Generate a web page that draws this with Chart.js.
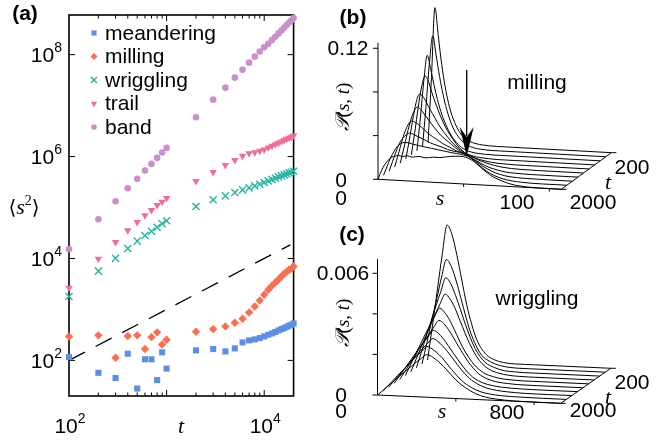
<!DOCTYPE html>
<html>
<head>
<meta charset="utf-8">
<title>Spreading of collective states</title>
<script src="https://cdn.jsdelivr.net/npm/chart.js@4.4.1/dist/chart.umd.min.js"></script>
<style>
  body { margin: 0; background: #fff; }
  #fig { position: relative; width: 659px; height: 441px; overflow: hidden; background: #fff; }
  #fig canvas { position: absolute; }
</style>
</head>
<body>
<div id="fig">
  <canvas id="msd" width="300" height="441" style="left:0;top:0"></canvas>
  <canvas id="mill" width="359" height="215" style="left:300px;top:0"></canvas>
  <canvas id="wrig" width="359" height="226" style="left:300px;top:215px"></canvas>
</div>
<script>
// (a) mean squared displacement <s^2> against t, one list per state
const times = [100, 200, 300, 400, 500, 600, 700, 800, 900, 1000,
  2000, 3000, 4000, 5000, 6000, 7000, 8000, 9000, 10000,
  11000, 12000, 13000, 14000, 15000, 16000, 17000, 18000, 19000, 20000];
const meandering = [116, 57, 45, 135, 28, 105, 105, 41, 144, 69,
  157, 167, 150, 172, 225, 247, 258, 274, 295,
  318, 338, 360, 387, 411, 430, 457, 479, 501, 531];
const milling = [295, 310, 113, 300, 310, 167, 286, 355, 206, 254,
  365, 411, 464, 548, 656, 873, 1145, 1500, 1940,
  2430, 2910, 3380, 3870, 4440, 5000, 5480, 6000, 6370, 6970];
const wriggling = [1800, 5640, 10100, 15700, 21900, 28300, 34300, 41100, 47900, 54800,
  105000, 142000, 169000, 197000, 222000, 243000, 266000, 287000, 309000,
  333000, 354000, 376000, 399000, 418000, 437000, 457000, 479000, 493000, 515000];
const trail = [2660, 9860, 20900, 35400, 51500, 69700, 88700, 111000, 129000, 152000,
  328000, 492000, 676000, 847000, 1030000, 1160000, 1210000, 1290000, 1370000,
  1500000, 1620000, 1740000, 1850000, 1970000, 2090000, 2220000, 2320000, 2430000, 2580000];
const band = [15200, 59000, 133000, 239000, 365000, 531000, 718000, 942000, 1200000, 1480000,
  5900000, 13100000, 22500000, 35400000, 50800000, 69700000, 91400000, 115000000, 139000000,
  163000000, 193000000, 225000000, 261000000, 298000000, 339000000, 382000000, 427000000, 474000000, 525000000];
// dashed guide, <s^2> proportional to t
const guideT = [100, 18500];
const guideS2 = [100, 18500];
const xPowers = [2, 4];
const yPowers = [2, 4, 6, 8];

// (b), (c) distributions P(s,t), one row per t (200 at the back, 2000 in front)
const tCurves = [200, 400, 600, 800, 1000, 1200, 1400, 1600, 1800, 2000];
const sMill = [0, 2, 4, 6, 8, 10, 12, 14, 17, 20, 24, 28, 32, 36, 40, 45, 50, 55, 60, 65, 70, 80, 107];
const pMill = [
  [0, 0.060, 0.124, 0.098, 0.072, 0.052, 0.037, 0.026, 0.015, 0.008, 0.0035, 0.0015, 0.0006, 0.0002, 0, 0, 0, 0, 0, 0, 0, 0, 0],
  [0, 0.036, 0.076, 0.102, 0.084, 0.065, 0.049, 0.036, 0.022, 0.013, 0.006, 0.0025, 0.001, 0.0004, 0, 0, 0, 0, 0, 0, 0, 0, 0],
  [0, 0.030, 0.064, 0.088, 0.076, 0.061, 0.048, 0.037, 0.025, 0.016, 0.008, 0.0035, 0.0015, 0.0006, 0.0002, 0, 0, 0, 0, 0, 0, 0, 0],
  [0, 0.021, 0.044, 0.063, 0.073, 0.068, 0.058, 0.049, 0.037, 0.027, 0.017, 0.009, 0.004, 0.002, 0.001, 0.0004, 0, 0, 0, 0, 0, 0, 0],
  [0, 0.017, 0.036, 0.052, 0.060, 0.058, 0.053, 0.047, 0.039, 0.031, 0.023, 0.016, 0.011, 0.007, 0.0045, 0.0025, 0.0012, 0.0005, 0.0002, 0, 0, 0, 0],
  [0, 0.013, 0.027, 0.039, 0.048, 0.052, 0.050, 0.046, 0.040, 0.034, 0.027, 0.022, 0.017, 0.013, 0.011, 0.007, 0.0045, 0.0025, 0.0012, 0.0005, 0.0002, 0, 0],
  [0, 0.011, 0.023, 0.033, 0.040, 0.043, 0.042, 0.040, 0.036, 0.032, 0.028, 0.024, 0.021, 0.018, 0.016, 0.012, 0.008, 0.0045, 0.0025, 0.001, 0.0004, 0, 0],
  [0, 0.009, 0.018, 0.026, 0.031, 0.034, 0.036, 0.035, 0.033, 0.031, 0.028, 0.026, 0.024, 0.022, 0.021, 0.019, 0.014, 0.009, 0.005, 0.0025, 0.001, 0.0002, 0],
  [0, 0.008, 0.016, 0.022, 0.027, 0.030, 0.031, 0.031, 0.030, 0.029, 0.028, 0.027, 0.026, 0.025, 0.024, 0.023, 0.021, 0.015, 0.009, 0.005, 0.0025, 0.0005, 0],
  [0, 0.008, 0.014, 0.018, 0.021, 0.022, 0.023, 0.022, 0.023, 0.022, 0.023, 0.022, 0.023, 0.023, 0.024, 0.025, 0.025, 0.022, 0.016, 0.010, 0.006, 0.0015, 0]
];
const sWrig = [0, 25, 50, 75, 100, 125, 150, 175, 200, 225, 250, 300, 350, 400, 450, 500, 550, 600, 700, 936];
const pWrig = [
  [0, 0.00168, 0.00348, 0.00523, 0.0067, 0.00623, 0.00523, 0.00402, 0.00281, 0.00188, 0.00114, 0.0004, 0.00013, 0.00003, 0, 0, 0, 0, 0, 0],
  [0, 0.00104, 0.00218, 0.00322, 0.00432, 0.0052, 0.00486, 0.00416, 0.00328, 0.00239, 0.00161, 0.00062, 0.00026, 0.00009, 0.00002, 0, 0, 0, 0, 0],
  [0, 0.00077, 0.00158, 0.00234, 0.0031, 0.00383, 0.0045, 0.00423, 0.00365, 0.00297, 0.00225, 0.00108, 0.00043, 0.00018, 0.00005, 0.00002, 0, 0, 0, 0],
  [0, 0.00059, 0.00117, 0.00176, 0.00234, 0.00289, 0.00343, 0.0039, 0.00367, 0.00324, 0.00265, 0.00152, 0.0007, 0.00029, 0.00012, 0.00004, 0.00001, 0, 0, 0],
  [0, 0.00051, 0.00102, 0.00153, 0.00204, 0.00252, 0.00299, 0.0034, 0.00321, 0.00286, 0.00238, 0.0014, 0.00071, 0.00031, 0.00014, 0.00005, 0.00002, 0, 0, 0],
  [0, 0.00039, 0.00078, 0.00117, 0.00156, 0.00195, 0.00231, 0.00267, 0.003, 0.00285, 0.00255, 0.00177, 0.00102, 0.00048, 0.00021, 0.00009, 0.00004, 0.00001, 0, 0],
  [0, 0.00035, 0.0007, 0.00105, 0.0014, 0.00176, 0.00208, 0.0024, 0.0027, 0.00257, 0.00232, 0.00165, 0.001, 0.00049, 0.00023, 0.00011, 0.00005, 0.00002, 0, 0],
  [0, 0.0003, 0.00058, 0.00088, 0.00115, 0.00145, 0.00173, 0.002, 0.00225, 0.0025, 0.00238, 0.0019, 0.00128, 0.00073, 0.00038, 0.00018, 0.00009, 0.00004, 0, 0],
  [0, 0.00028, 0.00053, 0.00081, 0.00106, 0.00133, 0.00159, 0.00184, 0.00207, 0.0023, 0.00219, 0.00179, 0.00122, 0.00071, 0.00038, 0.00018, 0.00009, 0.00004, 0.00001, 0],
  [0, 0.00021, 0.00044, 0.00065, 0.00088, 0.00109, 0.0013, 0.00151, 0.00172, 0.00191, 0.0021, 0.00187, 0.00143, 0.00092, 0.00055, 0.00029, 0.00014, 0.00007, 0.00001, 0]
];

const SANS = '"Liberation Sans", Arial, Helvetica, sans-serif';
const SERIF = '"Liberation Serif", "DejaVu Serif", serif';

// draw a run of text pieces with different fonts, y is the baseline
function rich(ctx, parts, x, y, align, angle) {
  ctx.save();
  ctx.translate(x, y);
  if (angle) ctx.rotate(angle);
  let w = 0;
  parts.forEach(p => { ctx.font = p.f; p.w = ctx.measureText(p.t).width; w += p.w; });
  let cx = align === 'center' ? -w / 2 : align === 'right' ? -w : 0;
  ctx.textAlign = 'left';
  ctx.textBaseline = 'alphabetic';
  ctx.fillStyle = '#000';
  parts.forEach(p => { ctx.font = p.f; ctx.fillText(p.t, cx, p.dy || 0); cx += p.w; });
  ctx.restore();
}

function pow10(ctx, e, x, y, align) {
  rich(ctx, [{ t: '10', f: '21px ' + SANS }, { t: String(e), f: '14px ' + SANS, dy: -10 }], x, y, align);
}

function seg(ctx, a, b) {
  ctx.beginPath();
  ctx.moveTo(a[0], a[1]);
  ctx.lineTo(b[0], b[1]);
  ctx.stroke();
}

const states = [
  { label: 'meandering', data: meandering, color: '#5b8ee6', shape: 'rect', r: 4.3, rot: 0 },
  { label: 'milling', data: milling, color: '#fd6d4f', shape: 'rectRot', r: 4.2, rot: 0 },
  { label: 'wriggling', data: wriggling, color: '#26b3a2', shape: 'crossRot', r: 5, rot: 0 },
  { label: 'trail', data: trail, color: '#ee6f96', shape: 'triangle', r: 4.3, rot: 180 },
  { label: 'band', data: band, color: '#cc8fcc', shape: 'circle', r: 3.3, rot: 0 }
];

const msdSets = states.map(st => ({
  label: st.label,
  data: times.map((t, i) => ({ x: t, y: st.data[i] })),
  showLine: false,
  pointStyle: st.shape,
  pointRadius: st.r,
  pointRotation: st.rot,
  backgroundColor: st.color,
  borderColor: st.color,
  pointBorderWidth: st.shape === 'crossRot' ? 1.4 : 0,
  clip: false
}));
msdSets.push({
  label: 'guide',
  data: guideT.map((t, i) => ({ x: t, y: guideS2[i] })),
  showLine: true,
  borderColor: '#000',
  borderWidth: 1.3,
  borderDash: [18, 12],
  pointRadius: 0,
  clip: false
});

const msdDecor = {
  id: 'msdDecor',
  beforeDatasetsDraw(chart) {
    const { ctx, chartArea: a, scales: { x, y } } = chart;
    ctx.save();
    ctx.strokeStyle = '#000';
    ctx.lineWidth = 1.6;
    ctx.strokeRect(a.left, a.top, a.right - a.left, a.bottom - a.top);
    ctx.lineWidth = 1;
    for (let d = 100; d < x.max; d *= 10) {
      for (let m = 1; m < 10; m++) {
        const v = d * m;
        if (v <= x.min || v >= x.max) continue;
        const px = x.getPixelForValue(v);
        const len = m === 1 ? 6 : 3.5;
        seg(ctx, [px, a.bottom], [px, a.bottom - len]);
        seg(ctx, [px, a.top], [px, a.top + len]);
      }
    }
    yPowers.forEach(e => {
      const py = y.getPixelForValue(Math.pow(10, e));
      seg(ctx, [a.left, py], [a.left + 6, py]);
      seg(ctx, [a.right, py], [a.right - 6, py]);
    });
    ctx.restore();
  },
  afterDraw(chart) {
    const { ctx, scales: { x, y } } = chart;
    ctx.save();
    ctx.fillStyle = '#000';
    xPowers.forEach(e => pow10(ctx, e, x.getPixelForValue(Math.pow(10, e)) + 1, 433, 'center'));
    yPowers.forEach(e => pow10(ctx, e, 62, y.getPixelForValue(Math.pow(10, e)) + 7.5, 'right'));
    rich(ctx, [{ t: 't', f: 'italic 22px ' + SERIF }], 181, 433, 'center');
    rich(ctx, [
      { t: '\u27E8', f: '20px "DejaVu Sans", ' + SERIF },
      { t: 's', f: 'italic 22px ' + SERIF },
      { t: '2', f: '14px ' + SERIF, dy: -9 },
      { t: '\u27E9', f: '20px "DejaVu Sans", ' + SERIF }
    ], 24, 214, 'center');
    rich(ctx, [{ t: '(a)', f: 'bold 21px ' + SANS }], 25, 20, 'center');
    // legend in the top left corner of the axes
    states.forEach((st, i) => {
      const ly = 33 + i * 23.5;
      ctx.fillStyle = st.color;
      ctx.strokeStyle = st.color;
      Chart.helpers.drawPoint(ctx, {
        pointStyle: st.shape, radius: st.r * 0.85, rotation: st.rot,
        borderWidth: st.shape === 'crossRot' ? 1.3 : 0
      }, 94, ly);
      ctx.fillStyle = '#000';
      ctx.font = '21px ' + SANS;
      ctx.textAlign = 'left';
      ctx.textBaseline = 'middle';
      ctx.fillText(st.label, 105, ly + 1);
    });
    ctx.restore();
  }
};

new Chart(document.getElementById('msd'), {
  type: 'scatter',
  data: { datasets: msdSets },
  options: {
    responsive: false,
    animation: false,
    devicePixelRatio: 1,
    events: [],
    layout: { padding: { top: 15, right: 2, left: 0, bottom: 0 } },
    plugins: { legend: { display: false }, tooltip: { enabled: false } },
    scales: {
      x: {
        type: 'logarithmic', min: 100, max: 20000,
        grid: { display: false }, border: { display: false }, ticks: { display: false },
        afterFit: s => { s.height = 45; }
      },
      y: {
        type: 'logarithmic', min: 20, max: 6e8,
        grid: { display: false }, border: { display: false }, ticks: { display: false },
        afterFit: s => { s.width = 69; }
      }
    }
  },
  plugins: [msdDecor]
});

// waterfall projection: s runs to the right, depth (older t) goes up-right, P goes up
function project(g, s, depth, p) {
  return { x: g.ox + s * g.sx + depth * g.dx, y: g.oy + s * g.sy - depth * g.dy - p * g.pz };
}

function waterfall(id, g, sGrid, rows, extra) {
  const last = tCurves.length - 1;
  const datasets = rows.map((row, j) => ({
    label: 't = ' + tCurves[j],
    data: sGrid.map((s, i) => project(g, s, last - j, row[i])),
    showLine: true,
    borderColor: '#000',
    borderWidth: 1,
    pointRadius: 0,
    cubicInterpolationMode: 'monotone'
  }));
  const decor = {
    id: 'waterDecor',
    afterDatasetsDraw(chart) {
      const { ctx, scales: { x, y } } = chart;
      const pt = (s, d, p) => { const q = project(g, s, d, p); return [x.getPixelForValue(q.x), y.getPixelForValue(q.y)]; };
      const at = (X, Y) => [x.getPixelForValue(X), y.getPixelForValue(Y)];
      ctx.save();
      ctx.strokeStyle = '#000';
      ctx.fillStyle = '#000';
      ctx.lineWidth = 1;
      seg(ctx, pt(0, 0, 0), pt(0, 0, g.zTop));
      seg(ctx, pt(0, 0, 0), pt(g.sMax, 0, 0));
      seg(ctx, pt(g.sMax, 0, 0), pt(g.sMax, last, 0));
      g.zTicks.forEach(v => { const q = pt(0, 0, v); seg(ctx, [q[0] - 5, q[1]], q); });
      g.sTicks.forEach(v => { const q = pt(v, 0, 0); seg(ctx, q, [q[0], q[1] + 3]); });
      [0, last].forEach(d => { const q = pt(g.sMax, d, 0); seg(ctx, q, [q[0] + 5, q[1]]); });
      g.labels.forEach(l => {
        const q = at(l.x, l.y);
        rich(ctx, [{ t: l.t, f: l.f }], q[0], q[1], 'center');
      });
      const pq = at(g.pLabel[0], g.pLabel[1]);
      rich(ctx, [
        { t: '\uD835\uDCAB', f: 'italic 20px ' + SERIF },
        { t: '(', f: '19px ' + SERIF },
        { t: 's', f: 'italic 19px ' + SERIF },
        { t: ', ', f: '19px ' + SERIF },
        { t: 't', f: 'italic 19px ' + SERIF },
        { t: ')', f: '19px ' + SERIF }
      ], pq[0], pq[1], 'center', -Math.PI / 2);
      if (extra) extra(ctx, at);
      ctx.restore();
    }
  };
  new Chart(document.getElementById(id), {
    type: 'scatter',
    data: { datasets },
    options: {
      responsive: false,
      animation: false,
      devicePixelRatio: 1,
      events: [],
      layout: { padding: 0 },
      plugins: { legend: { display: false }, tooltip: { enabled: false } },
      scales: {
        x: { type: 'linear', display: false, min: g.left, max: g.left + g.w },
        y: { type: 'linear', display: false, reverse: true, min: g.top, max: g.top + g.h }
      }
    },
    plugins: [decor]
  });
}

const NUM = '21px ' + SANS;
const ITAL = 'italic 22px ' + SERIF;

waterfall('mill', {
  left: 300, top: 0, w: 359, h: 215,
  ox: 378, oy: 179.3, sx: 1.713, sy: 0.0935, dx: 5.56, dy: 4.07, pz: 1092,
  zTop: 0.125, sMax: 107, zTicks: [0, 0.04, 0.08, 0.12], sTicks: [50, 100],
  pLabel: [349, 107],
  labels: [
    { t: '0.12', x: 348, y: 55, f: NUM },
    { t: '0', x: 341, y: 187, f: NUM },
    { t: '0', x: 341, y: 205, f: NUM },
    { t: 's', x: 440, y: 205, f: ITAL },
    { t: '100', x: 517, y: 209, f: NUM },
    { t: '2000', x: 593, y: 209, f: NUM },
    { t: 't', x: 608, y: 189, f: ITAL },
    { t: '200', x: 632, y: 174, f: NUM },
    { t: 'milling', x: 537, y: 89, f: NUM },
    { t: '(b)', x: 353, y: 24, f: 'bold 21px ' + SANS }
  ]
}, sMill, pMill, (ctx, at) => {
  // arrow pointing at the crossing of the curves
  const top = at(466.7, 70), tip = at(466.7, 156);
  ctx.lineWidth = 1.3;
  seg(ctx, top, [tip[0], tip[1] - 20]);
  ctx.beginPath();
  ctx.moveTo(tip[0], tip[1]);
  ctx.lineTo(tip[0] - 7, tip[1] - 29);
  ctx.lineTo(tip[0], tip[1] - 19);
  ctx.lineTo(tip[0] + 7, tip[1] - 29);
  ctx.closePath();
  ctx.fill();
});

waterfall('wrig', {
  left: 300, top: 215, w: 359, h: 226,
  ox: 377.5, oy: 395, sx: 0.1958, sy: 0.00887, dx: 5.56, dy: 3.89, pz: 20283,
  zTop: 0.0067, sMax: 936, zTicks: [0, 0.002, 0.004, 0.006], sTicks: [400, 800],
  pLabel: [349, 323],
  labels: [
    { t: '0.006', x: 343, y: 280, f: NUM },
    { t: '0', x: 341, y: 402, f: NUM },
    { t: '0', x: 341, y: 418, f: NUM },
    { t: 's', x: 442, y: 418, f: ITAL },
    { t: '800', x: 507, y: 419, f: NUM },
    { t: '2000', x: 593, y: 417, f: NUM },
    { t: 't', x: 608, y: 404, f: ITAL },
    { t: '200', x: 632, y: 389, f: NUM },
    { t: 'wriggling', x: 537, y: 305, f: NUM },
    { t: '(c)', x: 352, y: 241, f: 'bold 21px ' + SANS }
  ]
}, sWrig, pWrig);
</script>
</body>
</html>
